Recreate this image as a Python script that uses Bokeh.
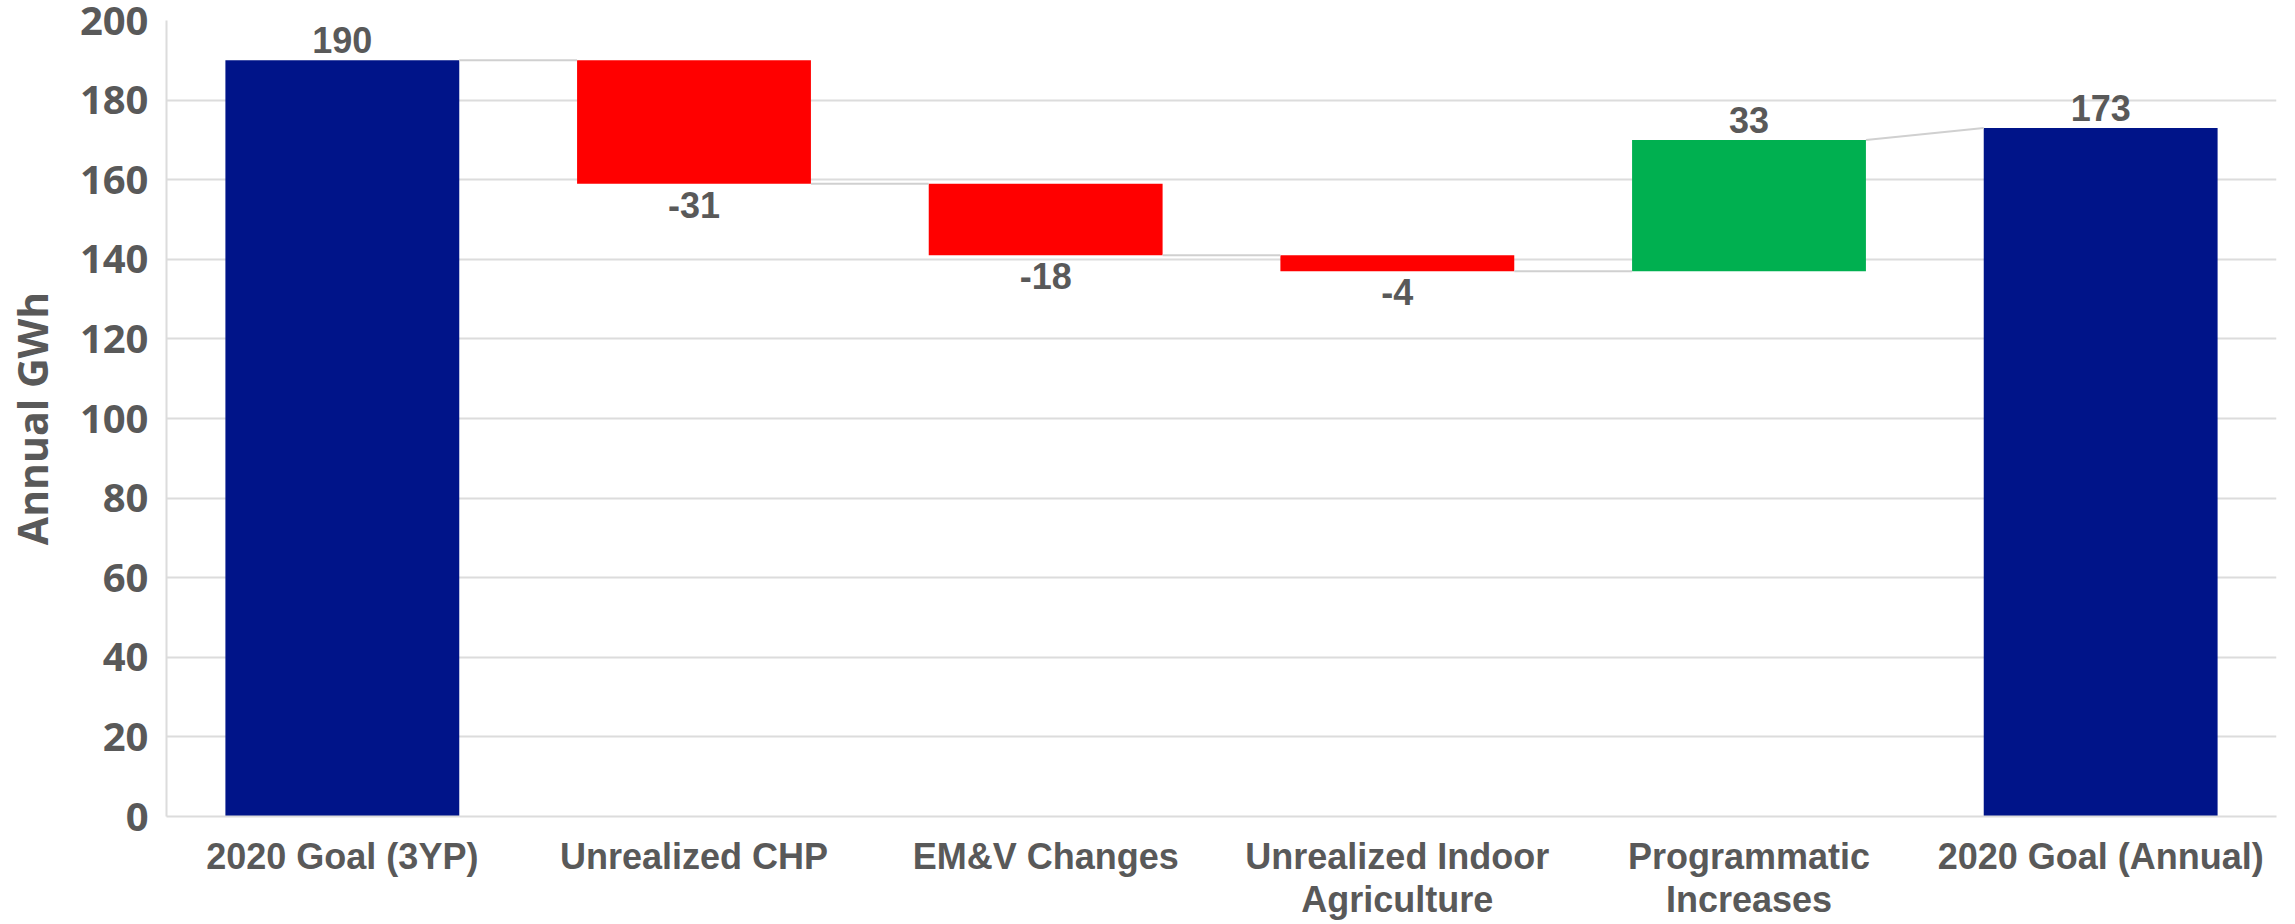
from bokeh.plotting import figure
from bokeh.models import ColumnDataSource, Range1d, FixedTicker, LabelSet
from bokeh.core.properties import value
from bokeh.embed import file_html
from bokeh.resources import INLINE

# ---- data ----
categories = ["2020 Goal (3YP)", "Unrealized CHP", "EM&V Changes",
              "Unrealized Indoor\nAgriculture", "Programmatic\nIncreases",
              "2020 Goal (Annual)"]
values = [190, -31, -18, -4, 33, 173]
kinds = ["total", "delta", "delta", "delta", "delta", "total"]
y_ticks = [0, 20, 40, 60, 80, 100, 120, 140, 160, 180, 200]

# ---- styles ----
C_TOTAL = "#001489"
C_NEG = "#FF0000"
C_POS = "#00B050"
TXT = "#595959"
GRID = "#dcdcdc"
BAR_W = 0.665

# ---- waterfall geometry from data ----
xs, bottoms, tops, cols, ends = [], [], [], [], []
running = 0
for i, (v, k) in enumerate(zip(values, kinds)):
    xs.append(i + 0.5)
    if k == "total":
        b, t = 0, v
        running = v
        cols.append(C_TOTAL)
    else:
        start = running
        running = running + v
        b, t = min(start, running), max(start, running)
        cols.append(C_POS if v > 0 else C_NEG)
    bottoms.append(b)
    tops.append(t)
    ends.append(running)

bars = ColumnDataSource(dict(x=xs, bottom=bottoms, top=tops, color=cols))

cx0, cy0, cx1, cy1 = [], [], [], []
for i in range(len(values) - 1):
    nxt_start = values[i + 1] if kinds[i + 1] == "total" else ends[i]
    cx0.append(xs[i] + BAR_W / 2)
    cy0.append(ends[i])
    cx1.append(xs[i + 1] - BAR_W / 2)
    cy1.append(nxt_start)

up_x, up_y, up_t, dn_x, dn_y, dn_t = [], [], [], [], [], []
for i, (v, k) in enumerate(zip(values, kinds)):
    if k == "total" or v > 0:
        up_x.append(xs[i]); up_y.append(tops[i]); up_t.append(str(v))
    else:
        dn_x.append(xs[i]); dn_y.append(bottoms[i]); dn_t.append(str(v))

p = figure(width=2279, height=922, output_backend="svg", toolbar_location=None,
           x_range=Range1d(0, len(categories)), y_range=Range1d(0, 200),
           min_border_left=162, min_border_right=3, min_border_top=20,
           min_border_bottom=103)
p.outline_line_color = None
p.background_fill_color = "white"
p.border_fill_color = "white"

p.vbar(x="x", bottom="bottom", top="top", width=BAR_W, color="color",
       line_color=None, source=bars)
p.segment(x0=cx0, y0=cy0, x1=cx1, y1=cy1, line_color="#d0d0d0", line_width=2)

lab_up = LabelSet(x="x", y="y", text="t", source=ColumnDataSource(dict(x=up_x, y=up_y, t=up_t)),
                  text_align="center", text_baseline="bottom", y_offset=7,
                  text_font=value("Liberation Sans"), text_font_style="bold",
                  text_font_size="36px", text_color=TXT)
lab_dn = LabelSet(x="x", y="y", text="t", source=ColumnDataSource(dict(x=dn_x, y=dn_y, t=dn_t)),
                  text_align="center", text_baseline="top", y_offset=-8,
                  text_font=value("Liberation Sans"), text_font_style="bold",
                  text_font_size="36px", text_color=TXT)
p.add_layout(lab_up)
p.add_layout(lab_dn)

# grid
p.xgrid.visible = False
p.ygrid.ticker = FixedTicker(ticks=y_ticks)
p.ygrid.grid_line_color = GRID
p.ygrid.grid_line_width = 2

# y axis
p.yaxis.ticker = FixedTicker(ticks=y_ticks)
p.yaxis.axis_label = "Annual GWh"
p.yaxis.axis_label_text_font = "Open Sans"
p.yaxis.axis_label_text_font_style = "bold"
p.yaxis.axis_label_text_font_size = "41px"
p.yaxis.axis_label_text_color = TXT
p.yaxis.axis_label_standoff = 17
p.yaxis.major_label_text_font = "Open Sans"
p.yaxis.major_label_text_font_style = "bold"
p.yaxis.major_label_text_font_size = "40px"
p.yaxis.major_label_text_color = TXT
p.yaxis.major_label_standoff = 18
p.yaxis.major_tick_out = 0
p.yaxis.major_tick_in = 0
p.yaxis.minor_tick_out = 0
p.yaxis.minor_tick_in = 0
p.yaxis.axis_line_color = GRID
p.yaxis.axis_line_width = 2

# x axis
p.xaxis.ticker = FixedTicker(ticks=xs)
p.xaxis.major_label_overrides = {x: c for x, c in zip(xs, categories)}
p.xaxis.major_label_text_font = "Liberation Sans"
p.xaxis.major_label_text_font_style = "bold"
p.xaxis.major_label_text_font_size = "36px"
p.xaxis.major_label_text_line_height = 1.05
p.xaxis.major_label_text_color = TXT
p.xaxis.major_label_standoff = 19
p.xaxis.major_tick_out = 0
p.xaxis.major_tick_in = 0
p.xaxis.minor_tick_out = 0
p.xaxis.minor_tick_in = 0
p.xaxis.axis_line_color = GRID
p.xaxis.axis_line_width = 2

open("out.html", "w").write(file_html(p, INLINE))
